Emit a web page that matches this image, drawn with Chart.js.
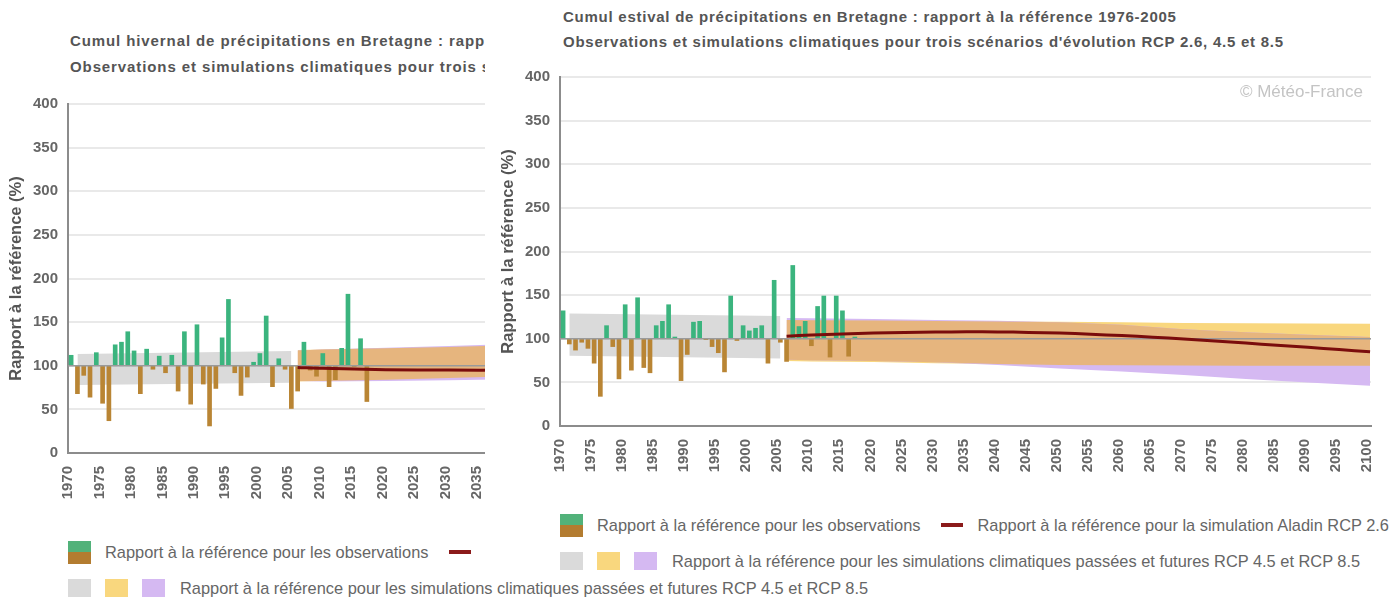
<!DOCTYPE html>
<html lang="fr">
<head>
<meta charset="utf-8">
<title>Cumul de précipitations en Bretagne</title>
<script src="https://cdn.jsdelivr.net/npm/chart.js@4.4.1/dist/chart.umd.min.js"></script>
<style>
    body { margin: 0; width: 1395px; height: 599px; overflow: hidden; background: #fff; position: relative;
           font-family: "Liberation Sans", Arial, sans-serif; }
    .graph { position: absolute; width: 920px; height: 610px; }
    .graph canvas { position: absolute; left: 0; top: 0; }
    .titre { position: absolute; left: 70px; font-weight: bold; font-size: 15px; line-height: 16px; color: #555; white-space: nowrap; letter-spacing: 0.9px; }
    #masque .titre { letter-spacing: 0.75px; }
    .ligne-leg { position: absolute; left: 68px; display: flex; align-items: center; white-space: nowrap; font-size: 16.4px; color: #666; }
    .obs { width: 23px; height: 23px; background: linear-gradient(#52b27a 50%, #b37c30 50%); margin-right: 14px; }
    .trait { width: 22px; height: 4px; background: #8b1a1a; margin: 0 14px 0 21px; }
    .carre { width: 23px; height: 18px; margin-right: 14px; }
    #masque { position: absolute; left: 485px; top: 0; width: 910px; height: 574px; background: #fff; overflow: hidden; }
</style>
</head>
<body>

<div class="graph" style="left:0;top:0">
    <div class="titre" style="top:33px">Cumul hivernal de précipitations en Bretagne : rapport à la référence 1976-2005</div>
    <div class="titre" style="top:59px">Observations et simulations climatiques pour trois scénarios d'évolution RCP 2.6, 4.5 et 8.5</div>
    <canvas id="graph-hiver" width="914" height="520"></canvas>
    <div class="ligne-leg" style="top:540px;height:24px">
        <span class="obs"></span><span>Rapport à la référence pour les observations</span>
        <span class="trait"></span><span>Rapport à la référence pour la simulation Aladin RCP 2.6</span>
    </div>
    <div class="ligne-leg" style="top:579px;height:18px">
        <span class="carre" style="background:#dadada"></span>
        <span class="carre" style="background:#f9d77e"></span>
        <span class="carre" style="background:#d5b9f2;margin-right:15px"></span>
        <span>Rapport à la référence pour les simulations climatiques passées et futures RCP 4.5 et RCP 8.5</span>
    </div>
</div>

<div id="masque">
    <div class="graph" style="left:7px;top:-27px">
        <div class="titre" style="top:36px;left:71px">Cumul estival de précipitations en Bretagne : rapport à la référence 1976-2005</div>
        <div class="titre" style="top:61px;left:71px">Observations et simulations climatiques pour trois scénarios d'évolution RCP 2.6, 4.5 et 8.5</div>
        <canvas id="graph-ete" width="903" height="520"></canvas>
        <div class="ligne-leg" style="top:540px;height:24px">
            <span class="obs"></span><span>Rapport à la référence pour les observations</span>
            <span class="trait"></span><span>Rapport à la référence pour la simulation Aladin RCP 2.6</span>
        </div>
        <div class="ligne-leg" style="top:579px;height:18px">
            <span class="carre" style="background:#dadada"></span>
            <span class="carre" style="background:#f9d77e"></span>
            <span class="carre" style="background:#d5b9f2;margin-right:15px"></span>
            <span>Rapport à la référence pour les simulations climatiques passées et futures RCP 4.5 et RCP 8.5</span>
        </div>
    </div>
</div>

<script>
// --- données ---
const anneesObs = [];
for (let a = 1970; a <= 2017; a++) anneesObs.push(a);

const anneesTicks = [1970, 1975, 1980, 1985, 1990, 1995, 2000, 2005, 2010, 2015, 2020, 2025, 2030, 2035,
    2040, 2045, 2050, 2055, 2060, 2065, 2070, 2075, 2080, 2085, 2090, 2095, 2100];

// hiver
const hiverObs = [112, 68, 89, 64, 115, 57, 37, 124, 127, 139, 117, 68, 119, 96, 111, 92, 112, 71, 139, 56,
    147, 79, 31, 74, 132, 176, 92, 66, 87, 104, 114, 157, 76, 108, 96, 51, 71, 127, 95, 88, 114, 76, 84, 120, 182, 99, 131, 59];
const hiverRefAnnees = [1971, 2005];
const hiverRefHaut = [113.5, 117];
const hiverRefBas = [78, 80.5];
const hiverFutAnnees = [2006, 2010, 2020, 2030, 2040];
const hiver45Haut = [118, 118.5, 120, 121.5, 123.5];
const hiver85Haut = [117.5, 118.5, 120.5, 122.5, 125];
const hiver45Bas = [82, 82.5, 84, 86, 88];
const hiver85Bas = [82.5, 82, 82.5, 83.5, 84.5];
const hiverAladin = [98, 97, 95.5, 95, 95];

// été
const eteObs = [132, 94, 87, 96, 89, 72, 34, 115, 91, 54, 139, 64, 147, 67, 61, 115, 120, 139, 102, 52,
    82, 119, 120, 99, 91, 84, 62, 149, 98, 115, 109, 112, 115, 72, 167, 96, 74, 184, 114, 120, 92, 137, 149, 79, 149, 132, 80, 102];
const eteRefAnnees = [1971, 2005];
const eteRefHaut = [129, 126];
const eteRefBas = [80.5, 77.5];
const eteFutAnnees = [2006, 2010, 2020, 2030, 2040, 2050, 2060, 2070, 2080, 2090, 2100];
const ete45Haut = [121.5, 121.3, 121, 120.3, 119.8, 119.5, 118.8, 118, 117.7, 117.4, 117.2];
const ete85Haut = [123.7, 123.5, 122.5, 121.5, 120.5, 119, 116, 111, 107.5, 104.5, 102];
const ete45Bas = [74.5, 74, 73.3, 72, 71, 70, 69.5, 69.2, 69, 69, 69];
const ete85Bas = [76, 75.5, 74.5, 73, 70, 66, 62.5, 58.5, 54, 50, 46];
const eteAladinAnnees = [2006, 2010, 2015, 2020, 2025, 2030, 2035, 2040, 2045, 2050, 2055, 2060, 2065, 2070,
    2075, 2080, 2085, 2090, 2095, 2100];
const eteAladin = [103, 104.3, 105.5, 106.5, 107.2, 107.7, 107.9, 107.8, 107.3, 106.5, 105.2, 103.6, 101.8, 99.7,
    97.4, 95, 92.6, 90.2, 87.6, 85];

// --- styles ---
const X_MIN = 1970;
const X_MAX = 2100.65;
const VERT = '#3bb47e';
const BRUN = '#b98534';
const GRIS = '#dadada';
const JAUNE = '#f9d77e';
const VIOLET = '#d5b9f2';
const ORANGE = '#e6b57e';
const ROUGE = '#7a0c0c';

Chart.defaults.font.family = "'Liberation Sans', Arial, sans-serif";

// les valeurs sont placées au milieu de l'année
function points(annees, valeurs) {
    return annees.map((a, i) => ({x: a + 0.5, y: valeurs[i]}));
}

// deux courbes invisibles, la première remplie jusqu'à la suivante
function bande(annees, haut, bas, couleur, ordre) {
    const commun = {type: 'line', pointRadius: 0, borderWidth: 0, borderColor: 'transparent', order: ordre};
    return [
        Object.assign({data: points(annees, haut), fill: '+1', backgroundColor: couleur}, commun),
        Object.assign({data: points(annees, bas), fill: false}, commun)
    ];
}

const filigrane = {
    id: 'filigrane',
    beforeDatasetsDraw(chart) {
        const ctx = chart.ctx;
        ctx.save();
        ctx.font = "17px 'Liberation Sans', Arial, sans-serif";
        ctx.fillStyle = '#c4c4c4';
        ctx.textAlign = 'right';
        ctx.textBaseline = 'middle';
        ctx.fillText('© Météo-France', chart.chartArea.right - 8, chart.chartArea.top + 15);
        ctx.restore();
    }
};

function creerGraph(canvasId, s) {
    const barres = anneesObs.map((a, i) => ({x: a + 0.5, y: [100, s.obs[i]]}));
    // zone commune aux deux scénarios
    const orangeHaut = s.haut45.map((v, i) => Math.min(v, s.haut85[i]));
    const orangeBas = s.bas45.map((v, i) => Math.max(v, s.bas85[i]));

    const datasets = [].concat(
        bande(s.futAnnees, s.haut45, s.bas45, JAUNE, 9),
        bande(s.futAnnees, s.haut85, s.bas85, VIOLET, 8),
        bande(s.futAnnees, orangeHaut, orangeBas, ORANGE, 7),
        bande(s.refAnnees, s.refHaut, s.refBas, GRIS, 7),
        [{
            type: 'bar',
            data: barres,
            backgroundColor: ctx => (ctx.raw && ctx.raw.y[1] >= 100) ? VERT : BRUN,
            barThickness: 4,
            order: 4
        }, {
            type: 'line',
            data: [{x: X_MIN, y: 100}, {x: X_MAX, y: 100}],
            borderColor: '#9a9a9a',
            borderWidth: 1.5,
            pointRadius: 0,
            order: 3
        }, {
            type: 'line',
            data: points(s.aladinAnnees, s.aladin),
            borderColor: ROUGE,
            borderWidth: 3,
            pointRadius: 0,
            tension: 0.35,
            order: 1
        }]
    );

    return new Chart(document.getElementById(canvasId), {
        type: 'bar',
        data: {datasets: datasets},
        plugins: [filigrane],
        options: {
            responsive: false,
            animation: false,
            events: [],
            layout: {padding: {top: 104, right: 24, bottom: 7, left: 0}},
            plugins: {legend: {display: false}, tooltip: {enabled: false}},
            scales: {
                x: {
                    type: 'linear',
                    min: X_MIN,
                    max: X_MAX,
                    offset: false,
                    grid: {display: false, offset: false},
                    border: {display: true, color: '#8c8c8c', width: 2},
                    ticks: {
                        autoSkip: false,
                        minRotation: 90,
                        maxRotation: 90,
                        padding: 5,
                        color: '#666',
                        font: {size: 15, weight: 'bold'},
                        callback: v => String(v)
                    },
                    afterBuildTicks: axe => {
                        axe.ticks = anneesTicks.map(v => ({value: v}));
                    },
                    afterFit: axe => {
                        axe.height = 60;
                    }
                },
                y: {
                    min: 0,
                    max: 400,
                    ticks: {stepSize: 50, padding: 10, color: '#666', font: {size: 15, weight: 'bold'}},
                    grid: {color: '#e9e9e9', lineWidth: 2, drawTicks: false},
                    border: {color: '#8c8c8c', width: 2},
                    title: {
                        display: true,
                        text: 'Rapport à la référence (%)',
                        color: '#555',
                        font: {size: 16.5, weight: 'bold'},
                        padding: {top: 7, bottom: 0}
                    },
                    afterFit: axe => {
                        axe.width = 68;
                    }
                }
            }
        }
    });
}

creerGraph('graph-hiver', {
    obs: hiverObs,
    refAnnees: hiverRefAnnees, refHaut: hiverRefHaut, refBas: hiverRefBas,
    futAnnees: hiverFutAnnees,
    haut45: hiver45Haut, haut85: hiver85Haut, bas45: hiver45Bas, bas85: hiver85Bas,
    aladinAnnees: hiverFutAnnees, aladin: hiverAladin
});

creerGraph('graph-ete', {
    obs: eteObs,
    refAnnees: eteRefAnnees, refHaut: eteRefHaut, refBas: eteRefBas,
    futAnnees: eteFutAnnees,
    haut45: ete45Haut, haut85: ete85Haut, bas45: ete45Bas, bas85: ete85Bas,
    aladinAnnees: eteAladinAnnees, aladin: eteAladin
});
</script>
</body>
</html>
